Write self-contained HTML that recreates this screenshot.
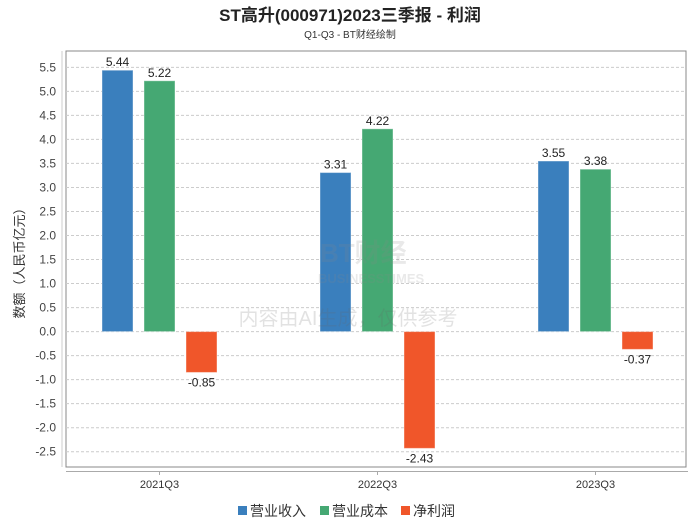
<!DOCTYPE html>
<html><head><meta charset="utf-8"><style>
body{margin:0;background:#fff;font-family:"Liberation Sans","Noto Sans CJK SC",sans-serif}
svg text{font-family:"Liberation Sans","Noto Sans CJK SC",sans-serif}
</style></head><body>
<svg id="c" width="700" height="524" xmlns="http://www.w3.org/2000/svg">
<text x="350" y="21" text-anchor="middle" font-size="17" font-weight="bold" fill="#222">ST高升(000971)2023三季报 - 利润</text>
<text x="350" y="38" text-anchor="middle" font-size="10" fill="#333">Q1-Q3 - BT财经绘制</text>
<rect x="66" y="51" width="620" height="416" fill="none" stroke="#888"/>
<line x1="66" y1="471.5" x2="688" y2="471.5" stroke="#aaa"/>
<line x1="62" y1="51" x2="62" y2="467" stroke="#ccc"/>
<g id="grid"></g><g id="bars"></g><g id="xt"></g>
<text x="24" y="260" font-size="13" fill="#333" text-anchor="middle" transform="rotate(-90 24 260)">数额（人民币亿元）</text>
<g opacity="0.18">
<text x="320" y="262" font-size="26" font-weight="bold" fill="#888">BT财经</text>
<text x="318" y="283" font-size="13" font-weight="bold" fill="#888">BUSINESSTIMES</text>
<text x="348" y="325" font-size="20" text-anchor="middle" fill="#666">内容由AI生成，仅供参考</text>
</g>
<g>
<rect x="238" y="506" width="9" height="9" fill="#3a7fbd"/>
<text x="250" y="516" font-size="14" fill="#333">营业收入</text>
<rect x="320" y="506" width="9" height="9" fill="#45a873"/>
<text x="332" y="516" font-size="14" fill="#333">营业成本</text>
<rect x="401" y="506" width="9" height="9" fill="#f0562a"/>
<text x="413" y="516" font-size="14" fill="#333">净利润</text>
</g>
</svg>
<script>
const categories=["2021Q3","2022Q3","2023Q3"];
const revenue=[5.44,3.31,3.55];
const cost=[5.22,4.22,3.38];
const profit=[-0.85,-2.43,-0.37];
const yTicks=[5.5,5.0,4.5,4.0,3.5,3.0,2.5,2.0,1.5,1.0,0.5,0.0,-0.5,-1.0,-1.5,-2.0,-2.5];
const NS="http://www.w3.org/2000/svg";
function y(v){return 331.6-v*48.05;}
function gx(i){return 117.5+i*218;}
function tx(i){return 159.5+i*218;}
function mk(t,a,p){const e=document.createElementNS(NS,t);for(const k in a)e.setAttribute(k,a[k]);p.appendChild(e);return e;}
const grid=document.getElementById('grid');
yTicks.forEach(v=>{
 const l=mk('line',{x1:66,x2:686,y1:y(v),y2:y(v),stroke:'#ccc','stroke-dasharray':'3,2'},grid);
 
 
 const t=mk('text',{x:56,y:y(v)+4,'text-anchor':'end','font-size':12,fill:'#444'},grid);
 t.textContent=v.toFixed(1);
 
 
});
const bars=document.getElementById('bars');
const series=[[revenue,'#3a7fbd',0,'bar-revenue'],[cost,'#45a873',42,'bar-cost'],[profit,'#f0562a',84,'bar-profit']];
series.forEach(([arr,col,off,name])=>{
 arr.forEach((v,i)=>{
  const cx=gx(i)+off;
  const top=Math.min(y(v),y(0)),h=Math.abs(y(v)-y(0));
  const r=mk('rect',{x:cx-15.5,y:top,width:31,height:h,fill:col,stroke:'#fff','stroke-opacity':0.4},bars);
  
  
  const t=mk('text',{x:cx,'text-anchor':'middle','font-size':12,fill:'#222',y:v>=0?y(v)-4:y(v)+14},bars);
  t.textContent=v.toFixed(2);
  
  
 });
});
const xt=document.getElementById('xt');
categories.forEach((c,i)=>{
 const l=mk('line',{x1:tx(i),x2:tx(i),y1:471.5,y2:475,stroke:'#aaa'},xt);
 
 
 const t=mk('text',{x:tx(i),y:488,'text-anchor':'middle','font-size':11,fill:'#333'},xt);
 t.textContent=c;
 
 
});
</script>
</body></html>
